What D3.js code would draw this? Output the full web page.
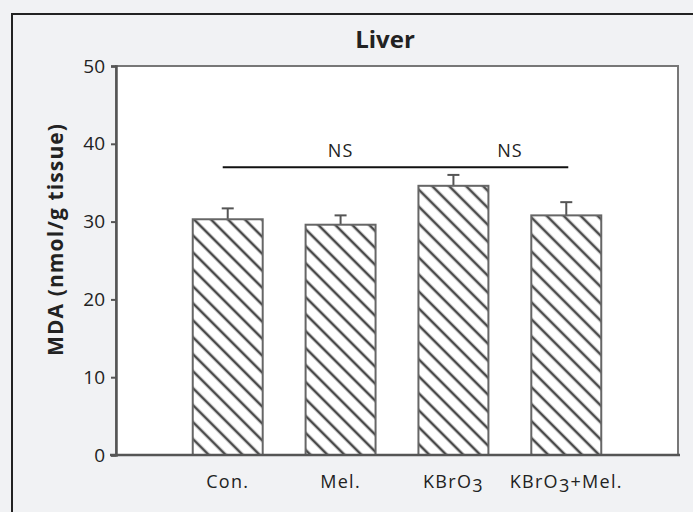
<!DOCTYPE html>
<html>
<head>
<meta charset="utf-8">
<script src="https://cdn.jsdelivr.net/npm/d3@7/dist/d3.min.js"></script>
<style>
  html, body { margin: 0; padding: 0; background: #f1f2f4; }
  svg { display: block; }
  text { font-family: "Open Sans", "DejaVu Sans", sans-serif; fill: #222; }
</style>
</head>
<body>
<svg id="chart" width="693" height="512"></svg>
<script>
// ---- data ----
const categories = ["Con.", "Mel.", "KBrO3", "KBrO3+Mel."];
const means = [30.3, 29.6, 34.6, 30.8];
const errorTops = [31.7, 30.8, 36.0, 32.5];
const yTicks = [0, 10, 20, 30, 40, 50];
const nsLineValue = 37;
const nsLabels = ["NS", "NS"];
const title = "Liver";
const yTitle = "MDA (nmol/g tissue)";

// ---- layout ----
const W = 693, H = 512;
const plot = { left: 116, right: 678, top: 66, bottom: 455 };

const svg = d3.select("#chart");

// outer frame
svg.append("rect").attr("x", 0).attr("y", 0).attr("width", W).attr("height", H).attr("fill", "#f1f2f4");
svg.append("path")
  .attr("d", `M12,${H} L12,14 L${W},14`)
  .attr("fill", "none").attr("stroke", "#222").attr("stroke-width", 2);

// plot area
svg.append("rect")
  .attr("x", plot.left).attr("y", plot.top)
  .attr("width", plot.right - plot.left).attr("height", plot.bottom - plot.top)
  .attr("fill", "#ffffff").attr("stroke", "#777").attr("stroke-width", 2);

// scales
const x = d3.scaleBand().domain(categories)
  .range([plot.left, plot.right]).paddingInner(0.38).paddingOuter(0.68);
const y = d3.scaleLinear().domain([0, 50]).range([plot.bottom, plot.top]);

// hatch pattern
const defs = svg.append("defs");
const pat = defs.append("pattern")
  .attr("id", "hatch").attr("patternUnits", "userSpaceOnUse")
  .attr("width", 12).attr("height", 12)
  .attr("patternTransform", "rotate(-45)");
pat.append("rect").attr("width", 12).attr("height", 12).attr("fill", "#fff");
pat.append("line").attr("x1", 6).attr("y1", 0).attr("x2", 6).attr("y2", 12)
  .attr("stroke", "#4a4a4a").attr("stroke-width", 2.6);

// bars
const data = categories.map((c, i) => ({ c, v: means[i], e: errorTops[i] }));

// error bars (behind bars)
const eb = svg.append("g");
eb.selectAll("line.stem").data(data).enter().append("line")
  .attr("x1", d => x(d.c) + x.bandwidth() / 2).attr("x2", d => x(d.c) + x.bandwidth() / 2)
  .attr("y1", d => y(d.v)).attr("y2", d => y(d.e))
  .attr("stroke", "#555").attr("stroke-width", 2);
eb.selectAll("line.cap").data(data).enter().append("line")
  .attr("x1", d => x(d.c) + x.bandwidth() / 2 - 6).attr("x2", d => x(d.c) + x.bandwidth() / 2 + 6)
  .attr("y1", d => y(d.e)).attr("y2", d => y(d.e))
  .attr("stroke", "#555").attr("stroke-width", 2);

svg.append("g").selectAll("rect").data(data).enter().append("rect")
  .attr("x", d => x(d.c)).attr("y", d => y(d.v))
  .attr("width", x.bandwidth()).attr("height", d => y(0) - y(d.v))
  .attr("fill", "url(#hatch)").attr("stroke", "#666").attr("stroke-width", 2);

// y axis
const yAxis = d3.axisLeft(y).tickValues(yTicks).tickSize(5).tickPadding(6);
const gy = svg.append("g").attr("transform", `translate(${plot.left},0)`).call(yAxis);
gy.select(".domain").attr("stroke", "#555").attr("stroke-width", 2.5);
gy.selectAll(".tick line").attr("stroke", "#555").attr("stroke-width", 2);
gy.selectAll(".tick text").attr("font-size", 19).attr("fill", "#222")
  .attr("font-family", "'Open Sans', sans-serif");

// x axis baseline
svg.append("line")
  .attr("x1", plot.left - 6).attr("x2", plot.right + 2)
  .attr("y1", y(0)).attr("y2", y(0))
  .attr("stroke", "#555").attr("stroke-width", 2.5);

// category labels (with subscript 3)
const catG = svg.append("g");
categories.forEach(c => {
  const t = catG.append("text")
    .attr("x", x(c) + x.bandwidth() / 2).attr("y", 488)
    .attr("text-anchor", "middle").attr("font-size", 18)
    .attr("letter-spacing", 1.3).attr("fill", "#222");
  const parts = c.split("3");
  parts.forEach((p, i) => {
    if (i > 0) {
      t.append("tspan").attr("dy", 4).text("3");
      t.append("tspan").attr("dy", -4).text(p);
    } else {
      t.append("tspan").text(p);
    }
  });
});

// NS annotation
const nsY = y(nsLineValue);
svg.append("line")
  .attr("x1", x(categories[0]) + x.bandwidth() / 2 - 5)
  .attr("x2", x(categories[3]) + x.bandwidth() / 2 + 2)
  .attr("y1", nsY).attr("y2", nsY)
  .attr("stroke", "#111").attr("stroke-width", 2);
const nsX = [
  x(categories[1]) + x.bandwidth() / 2,
  (x(categories[2]) + x(categories[3])) / 2 + x.bandwidth() / 2
];
svg.selectAll("text.ns").data(nsLabels).enter().append("text")
  .attr("class", "ns")
  .attr("x", (d, i) => nsX[i]).attr("y", nsY - 10)
  .attr("text-anchor", "middle").attr("font-size", 18).attr("letter-spacing", 1).text(d => d);

// title
svg.append("text").attr("x", 385).attr("y", 48)
  .attr("text-anchor", "middle").attr("font-size", 24).attr("font-weight", "bold")
  .text(title);

// y title
svg.append("text")
  .attr("transform", `translate(63,240) rotate(-90)`)
  .attr("text-anchor", "middle").attr("font-size", 21).attr("font-weight", "bold")
  .attr("textLength", 232).attr("lengthAdjust", "spacing")
  .text(yTitle);
</script>
</body>
</html>
